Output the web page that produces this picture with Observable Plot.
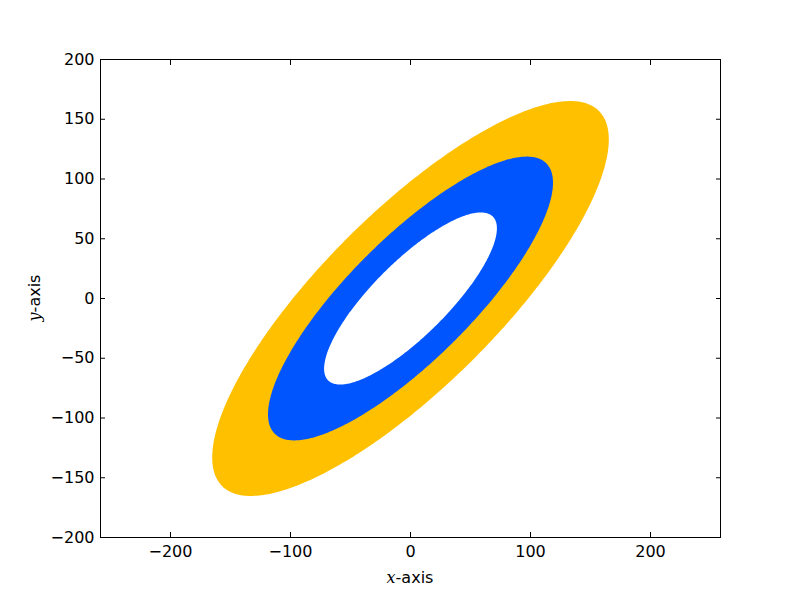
<!DOCTYPE html>
<html><head><meta charset="utf-8">
<script src="https://cdn.jsdelivr.net/npm/d3@7"></script>
<script src="https://cdn.jsdelivr.net/npm/@observablehq/plot@0.6"></script>
<style>body{margin:0;background:#fff}svg{display:block}</style>
</head><body><div id="chart"></div>
<script>
// Ellipses (drawn back to front): semi-axes along the 45° direction and across it
const names = ["outer", "middle", "inner"];
const semiMajor = [222, 160, 97];
const semiMinor = [73, 51, 31];
const angleDeg = [45, 45, 45];
const centerX = [0, 0, 0];
const centerY = [0, 0, 0];
const colors = ["#ffc000", "#0055ff", "#ffffff"];
const xTicks = [-200, -100, 0, 100, 200];
const yTicks = [-200, -150, -100, -50, 0, 50, 100, 150, 200];

function outline(i) {
  const a = semiMajor[i], b = semiMinor[i], th = angleDeg[i] * Math.PI / 180;
  const pts = [];
  for (let k = 0; k <= 360; k++) {
    const t = k * Math.PI / 180;
    const u = a * Math.cos(t), v = b * Math.sin(t);
    pts.push({x: centerX[i] + u * Math.cos(th) - v * Math.sin(th),
              y: centerY[i] + u * Math.sin(th) + v * Math.cos(th)});
  }
  return pts;
}

const fmt = d => d < 0 ? "\u2212" + Math.abs(d) : String(d);
const marks = names.map((n, i) => Plot.line(outline(i), {x: "x", y: "y", fill: colors[i], stroke: "none", curve: "linear"}));

const chart = Plot.plot({
  width: 800, height: 597,
  marginLeft: 100, marginRight: 80, marginTop: 59, marginBottom: 60,
  style: {fontFamily: "DejaVu Sans", fontSize: "16px", color: "black", background: "white"},
  x: {domain: [-258.33, 258.33]},
  y: {domain: [-200, 200]},
  marks: [
    ...marks,
    Plot.axisX(xTicks, {anchor: "bottom", tickSize: 0, tickPadding: 8, tickFormat: fmt, label: null, fontSize: 16}),
    Plot.axisX(xTicks, {anchor: "bottom", tickSize: -5, tickFormat: () => "", label: null}),
    Plot.axisX(xTicks, {anchor: "top", tickSize: -5, tickFormat: () => "", label: null}),
    Plot.axisY(yTicks, {anchor: "left", tickSize: 0, tickPadding: 6, tickFormat: fmt, label: null, fontSize: 16}),
    Plot.axisY(yTicks, {anchor: "left", tickSize: -5, tickFormat: () => "", label: null}),
    Plot.axisY(yTicks, {anchor: "right", tickSize: -5, tickFormat: () => "", label: null}),
    Plot.frame({stroke: "black", strokeWidth: 1})
  ]
});
document.getElementById("chart").appendChild(chart);

const svg = d3.select(chart);
const xl = svg.append("text").attr("x", 410).attr("y", 583).attr("text-anchor", "middle")
  .attr("font-size", 16).attr("font-family", "DejaVu Sans").attr("fill", "black");
xl.append("tspan").attr("font-family", "DejaVu Serif").attr("font-style", "italic").text("x");
xl.append("tspan").text("-axis");
const yl = svg.append("text").attr("transform", "translate(40,298) rotate(-90)").attr("text-anchor", "middle")
  .attr("font-size", 16).attr("font-family", "DejaVu Sans").attr("fill", "black");
yl.append("tspan").attr("font-family", "DejaVu Serif").attr("font-style", "italic").text("y");
yl.append("tspan").text("-axis");
</script></body></html>
